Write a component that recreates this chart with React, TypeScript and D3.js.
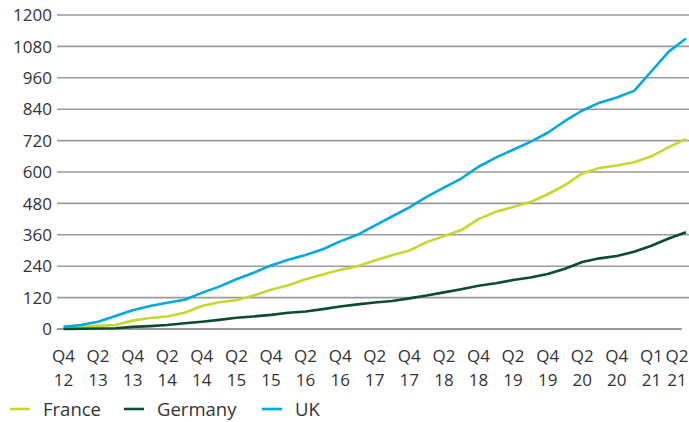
import React from "react";
import * as d3 from "d3";

const quarterLabels = [
  ["Q4", "12"], ["Q2", "13"], ["Q4", "13"], ["Q2", "14"], ["Q4", "14"],
  ["Q2", "15"], ["Q4", "15"], ["Q2", "16"], ["Q4", "16"], ["Q2", "17"],
  ["Q4", "17"], ["Q2", "18"], ["Q4", "18"], ["Q2", "19"], ["Q4", "19"],
  ["Q2", "20"], ["Q4", "20"], ["Q1", "21"], ["Q2", "21"],
];

const yTicks = [0, 120, 240, 360, 480, 600, 720, 840, 960, 1080, 1200];

const france = [
  2, 8, 12, 15, 32, 42, 48, 62, 88, 102, 110, 128, 150, 167, 190, 208, 226, 240,
  262, 282, 300, 332, 355, 378, 420, 448, 466, 485, 515, 550, 595, 615, 625, 637,
  660, 695, 726,
];
const germany = [
  0, 1, 2, 3, 8, 11, 15, 22, 28, 35, 43, 48, 54, 62, 67, 76, 86, 94, 101, 107,
  117, 128, 140, 152, 165, 175, 187, 197, 210, 230, 256, 270, 279, 295, 318, 346,
  370,
];
const uk = [
  8, 15, 28, 50, 72, 88, 100, 112, 138, 162, 190, 215, 243, 265, 283, 305, 335,
  360, 395, 430, 465, 505, 540, 575, 620, 655, 685, 715, 750, 795, 835, 865, 885,
  910, 985, 1060, 1110,
];

const seriesNames = ["France", "Germany", "UK"];
const seriesColors = ["#c4d82e", "#0b4d2c", "#00a9e0"];

const W = 689;
const H = 422;
const FONT = "'Open Sans', 'DejaVu Sans', sans-serif";

export default function App() {
  const idx = d3.range(france.length);
  const x = d3.scalePoint<number>().domain(idx).range([63.5, 686]);
  const y = d3.scaleLinear().domain([0, 1200]).range([329, 15]);
  const line = d3
    .line<number>()
    .x((_, i) => x(i) as number)
    .y((d) => y(d));
  const all = [france, germany, uk];
  const legendX = [10, 124, 262];

  return (
    <svg
      width={W}
      height={H}
      style={{ position: "fixed", left: 0, top: 0, background: "#fff" }}
      fontFamily={FONT}
    >
      {yTicks.map((t) => (
        <g key={t}>
          <line
            x1={57}
            x2={t === 0 ? 682 : W}
            y1={y(t)}
            y2={y(t)}
            stroke="#9a9a9a"
            strokeWidth={t === 0 ? 2 : 1.6}
          />
          <text
            x={52}
            y={y(t)}
            dy="0.36em"
            textAnchor="end"
            fontSize={17}
            fill="#333"
          >
            {t}
          </text>
        </g>
      ))}
      {quarterLabels.map((l, k) => {
        const lx = Math.min(x(k * 2) as number, 677);
        return (
          <text key={k} textAnchor="middle" fontSize={17} fill="#333">
            <tspan x={lx} y={362}>
              {l[0]}
            </tspan>
            <tspan x={lx} y={386}>
              {l[1]}
            </tspan>
          </text>
        );
      })}
      {all.map((s, i) => (
        <path
          key={seriesNames[i]}
          d={line(s) || ""}
          fill="none"
          stroke={seriesColors[i]}
          strokeWidth={2.6}
          strokeLinejoin="round"
        />
      ))}
      {seriesNames.map((n, i) => (
        <g key={n}>
          <line
            x1={legendX[i]}
            x2={legendX[i] + 20}
            y1={409}
            y2={409}
            stroke={seriesColors[i]}
            strokeWidth={2.6}
          />
          <text x={legendX[i] + 33} y={415.5} fontSize={18.5} fill="#333">
            {n}
          </text>
        </g>
      ))}
    </svg>
  );
}
